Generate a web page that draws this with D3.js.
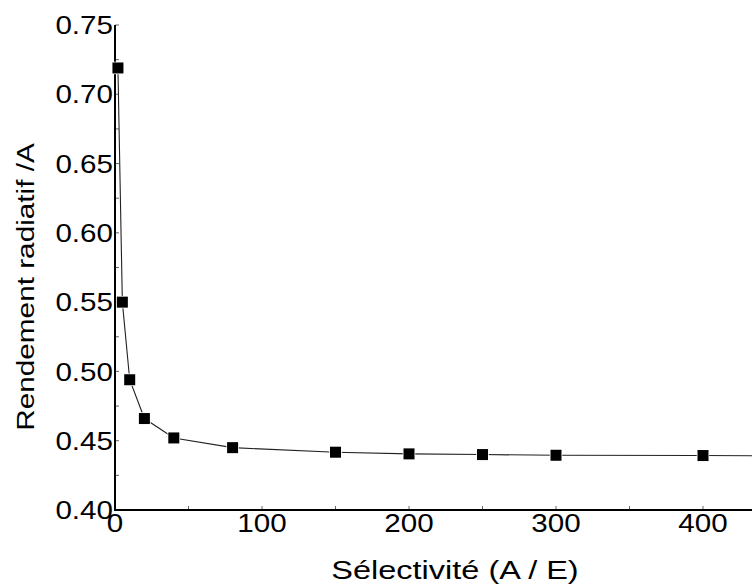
<!DOCTYPE html>
<html><head><meta charset="utf-8">
<script src="https://cdn.jsdelivr.net/npm/d3@7"></script>
<style>body{margin:0;background:#fff}svg{display:block}text{font-family:"Liberation Sans",Arial,sans-serif;fill:#000}</style>
</head><body><svg id="c" width="752" height="585"></svg>
<script>
const selectivity = [2, 5, 10, 20, 40, 80, 150, 200, 250, 300, 400, 500];
const yieldA = [0.719, 0.550, 0.494, 0.466, 0.452, 0.445, 0.4417, 0.4405, 0.4400, 0.4395, 0.4393, 0.4388];
const xTicks = [0, 100, 200, 300, 400];
const yTicks = [0.40, 0.45, 0.50, 0.55, 0.60, 0.65, 0.70, 0.75];
const xMinor = [50, 150, 250, 350, 450];
const yMinor = [0.425, 0.475, 0.525, 0.575, 0.625, 0.675, 0.725];
const xTitle = "Sélectivité (A / E)";
const yTitle = "Rendement radiatif /A";

const svg = d3.select("#c");
const x = d3.scaleLinear().domain([0, 500]).range([115, 850]);
const y = d3.scaleLinear().domain([0.40, 0.75]).range([510, 25]);

// minor ticks (inward)
svg.append("g").selectAll("line").data(xMinor.concat(xTicks)).join("line")
  .attr("x1", d => x(d)).attr("x2", d => x(d)).attr("y1", 510).attr("y2", 506)
  .attr("stroke", "#666").attr("stroke-width", 1);
svg.append("g").selectAll("line").data(yMinor.concat(yTicks)).join("line")
  .attr("x1", 115).attr("x2", 119).attr("y1", d => y(d)).attr("y2", d => y(d))
  .attr("stroke", "#666").attr("stroke-width", 1);

// axes lines
svg.append("line").attr("x1", x(0)).attr("x2", 752).attr("y1", y(0.40)).attr("y2", y(0.40))
  .attr("stroke", "#000").attr("stroke-width", 2);
svg.append("line").attr("x1", x(0)).attr("x2", x(0)).attr("y1", y(0.75)).attr("y2", y(0.40) + 1)
  .attr("stroke", "#000").attr("stroke-width", 2);

// tick labels
const sx = 1.16;
svg.append("g").selectAll("text").data(yTicks).join("text")
  .attr("transform", d => `translate(113,${y(d)}) scale(${sx},1)`)
  .attr("text-anchor", "end").attr("dy", "0.36em").attr("font-size", 25.5)
  .text(d => d.toFixed(2));
svg.append("g").selectAll("text").data(xTicks).join("text")
  .attr("transform", d => `translate(${x(d)},523) scale(${sx},1)`)
  .attr("text-anchor", "middle").attr("dy", "0.36em").attr("font-size", 25.5)
  .text(d => d);

// titles
svg.append("text").attr("transform", "translate(455,570) scale(1.3,1)")
  .attr("text-anchor", "middle").attr("dy", "0.36em").attr("font-size", 25)
  .text(xTitle);
svg.append("text").attr("transform", "translate(25,287) rotate(-90) scale(1.24,1)")
  .attr("text-anchor", "middle").attr("dy", "0.36em").attr("font-size", 24)
  .text(yTitle);

// data line
const pts = selectivity.map((s, i) => [s, yieldA[i]]);
svg.append("path").datum(pts)
  .attr("d", d3.line().x(d => x(d[0])).y(d => y(d[1])))
  .attr("fill", "none").attr("stroke", "#222").attr("stroke-width", 1.1);

// markers
const m = 11;
svg.append("g").selectAll("rect").data(pts).join("rect")
  .attr("x", d => x(d[0]) - m / 2).attr("y", d => y(d[1]) - m / 2)
  .attr("width", m).attr("height", m)
  .attr("fill", "#000").attr("stroke", "#fff").attr("stroke-width", 1.5)
  .attr("paint-order", "stroke");
</script></body></html>
